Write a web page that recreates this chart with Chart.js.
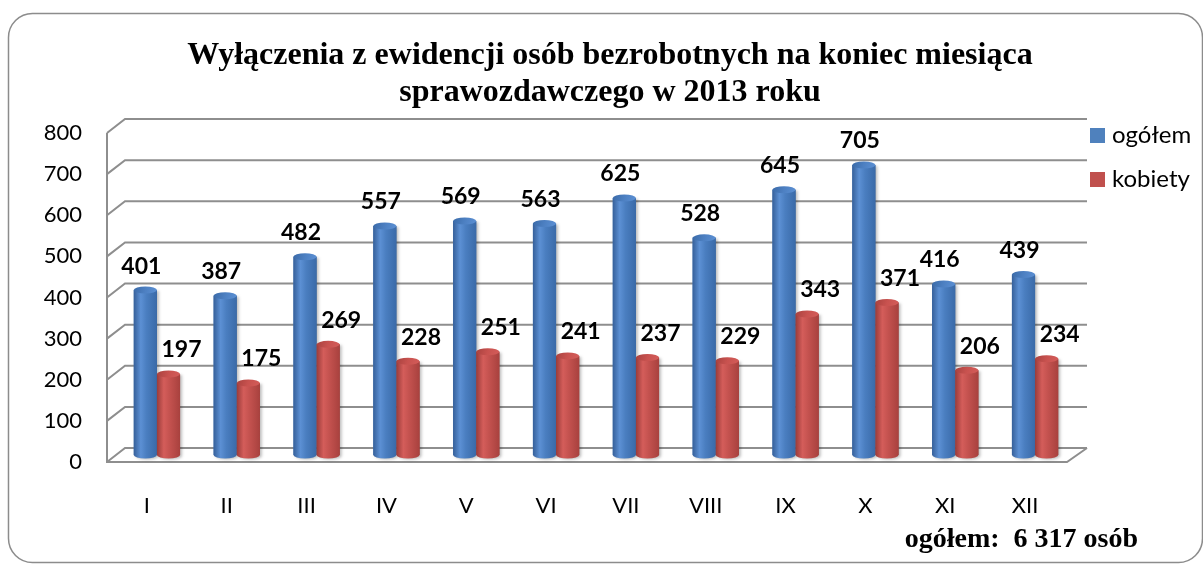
<!DOCTYPE html>
<html lang="pl">
<head>
<meta charset="utf-8">
<title>Wyłączenia z ewidencji 2013</title>
<script src="https://cdn.jsdelivr.net/npm/chart.js@4.4.0/dist/chart.umd.min.js"></script>
<style>
  html, body { margin: 0; padding: 0; background: #fff; }
  #wrap { width: 1203px; height: 565px; position: relative; }
</style>
</head>
<body>
<div id="wrap"><canvas id="wykres" width="1203" height="565"></canvas></div>
<script>
// dane
var miesiace = ['I', 'II', 'III', 'IV', 'V', 'VI', 'VII', 'VIII', 'IX', 'X', 'XI', 'XII'];
var ogolem  = [401, 387, 482, 557, 569, 563, 625, 528, 645, 705, 416, 439];
var kobiety = [197, 175, 269, 228, 251, 241, 237, 229, 343, 371, 206, 234];
var osY = [0, 100, 200, 300, 400, 500, 600, 700, 800];
var tytul = ['Wyłączenia z ewidencji osób bezrobotnych na koniec miesiąca', 'sprawozdawczego w 2013 roku'];
var podpis = 'ogółem:  6 317 osób';

var kolory = [
  { base: '#4F81BD', dark: '#36609a', light: '#5c90d4', mid: '#4a7ec0', dark2: '#3a6aa8', top: '#4d80c2' },
  { base: '#C0504D', dark: '#9a3c3a', light: '#d45d5a', mid: '#c4524f', dark2: '#a8413e', top: '#c8524f' }
];

var szary = '#8e8e8e';

function walec(ctx, x, top, base, w, c) {
  var rx = w / 2, ry = 3.5;
  var l = x - rx, r = x + rx;
  var g = ctx.createLinearGradient(l, 0, r, 0);
  g.addColorStop(0, c.dark);
  g.addColorStop(0.3, c.light);
  g.addColorStop(0.55, c.mid);
  g.addColorStop(1, c.dark2);
  ctx.save();
  ctx.shadowColor = 'rgba(0,0,0,0.25)';
  ctx.shadowBlur = 3;
  ctx.shadowOffsetX = 2;
  ctx.shadowOffsetY = 1;
  ctx.beginPath();
  ctx.moveTo(l, top);
  ctx.lineTo(l, base);
  ctx.ellipse(x, base, rx, ry, 0, Math.PI, 0, true);
  ctx.lineTo(r, top);
  ctx.closePath();
  ctx.fillStyle = g;
  ctx.fill();
  ctx.restore();
  // pokrywka
  var g2 = ctx.createLinearGradient(l, top - ry, r, top + ry);
  g2.addColorStop(0, c.dark2);
  g2.addColorStop(0.5, c.top);
  g2.addColorStop(1, c.light);
  ctx.beginPath();
  ctx.ellipse(x, top, rx, ry, 0, 0, Math.PI * 2);
  ctx.fillStyle = g2;
  ctx.fill();
}

var sciany = {
  id: 'sciany',
  beforeDatasetsDraw: function(chart) {
    var ctx = chart.ctx, a = chart.chartArea, sy = chart.scales.y;
    var xf = a.left - 10, xb = a.left + 8, xr = a.right + 12;
    ctx.save();
    ctx.strokeStyle = szary;
    ctx.lineWidth = 2;
    osY.forEach(function(v) {
      var p = sy.getPixelForValue(v);
      ctx.beginPath();
      ctx.moveTo(xf, p + 7);
      ctx.lineTo(xb, p - 7);
      ctx.lineTo(xr, p - 7);
      ctx.stroke();
    });
    var p0 = sy.getPixelForValue(0), pm = sy.getPixelForValue(800);
    // os pionowa z przodu i podloga
    ctx.beginPath();
    ctx.moveTo(xf, pm + 7);
    ctx.lineTo(xf, p0 + 7);
    ctx.lineTo(a.right - 8, p0 + 7);
    ctx.lineTo(xr, p0 - 7);
    ctx.stroke();
    ctx.restore();
  },
  afterDatasetsDraw: function(chart) {
    var ctx = chart.ctx;
    var przes = [-4, 13];
    chart.data.datasets.forEach(function(ds, i) {
      var meta = chart.getDatasetMeta(i);
      meta.data.forEach(function(bar) {
        walec(ctx, bar.x, bar.y, bar.base, bar.width, kolory[i]);
      });
    });
    ctx.save();
    ctx.font = 'bold 23px Lato';
    ctx.fillStyle = '#000';
    ctx.textAlign = 'center';
    ctx.textBaseline = 'middle';
    chart.data.datasets.forEach(function(ds, i) {
      var meta = chart.getDatasetMeta(i);
      meta.data.forEach(function(bar, j) {
        ctx.fillText(String(ds.data[j]), bar.x + przes[i], bar.y - 24);
      });
    });
    ctx.restore();
  },
  afterDraw: function(chart) {
    var ctx = chart.ctx;
    ctx.save();
    // ramka
    ctx.strokeStyle = '#8c8c8c';
    ctx.lineWidth = 1.5;
    ctx.beginPath();
    ctx.roundRect(8.5, 13.5, 1194, 549, 24);
    ctx.stroke();
    // tytul
    ctx.fillStyle = '#000';
    ctx.font = 'bold 32px "Liberation Serif"';
    ctx.textAlign = 'center';
    ctx.textBaseline = 'alphabetic';
    ctx.fillText(tytul[0], 610, 64);
    ctx.fillText(tytul[1], 610, 101);
    // legenda
    ctx.textAlign = 'left';
    ctx.textBaseline = 'middle';
    ctx.font = '24px Lato';
    chart.data.datasets.forEach(function(ds, i) {
      var y = 135 + i * 44;
      ctx.fillStyle = kolory[i].base;
      ctx.fillRect(1090, y - 7, 15, 15);
      ctx.fillStyle = '#000';
      ctx.fillText(ds.label, 1112, y);
    });
    // podpis
    ctx.font = 'bold 28px "Liberation Serif"';
    ctx.textAlign = 'right';
    ctx.textBaseline = 'alphabetic';
    ctx.fillText(podpis, 1138, 547);
    ctx.restore();
  }
};

new Chart(document.getElementById('wykres'), {
  type: 'bar',
  data: {
    labels: miesiace,
    datasets: [
      { label: 'ogółem', data: ogolem, backgroundColor: kolory[0].base },
      { label: 'kobiety', data: kobiety, backgroundColor: kolory[1].base }
    ]
  },
  options: {
    responsive: false,
    animation: false,
    devicePixelRatio: 1,
    categoryPercentage: 0.58,
    barPercentage: 1,
    layout: { padding: { top: 126, right: 128, left: 0, bottom: 0 } },
    plugins: {
      legend: { display: false },
      tooltip: { enabled: false },
      title: { display: false }
    },
    scales: {
      x: {
        grid: { display: false, drawTicks: false },
        border: { display: false },
        ticks: { color: '#000', font: { family: 'Lato', size: 22 }, padding: 38, labelOffset: -10 },
        afterFit: function(s) { s.height = 110; }
      },
      y: {
        min: 0,
        max: 800,
        grid: { display: false, drawTicks: false },
        border: { display: false },
        ticks: { stepSize: 100, color: '#000', font: { family: 'Lato', size: 22 }, padding: 35, labelOffset: 7 },
        afterFit: function(s) { s.width = 117; }
      }
    }
  },
  plugins: [sciany]
});
</script>
</body>
</html>
